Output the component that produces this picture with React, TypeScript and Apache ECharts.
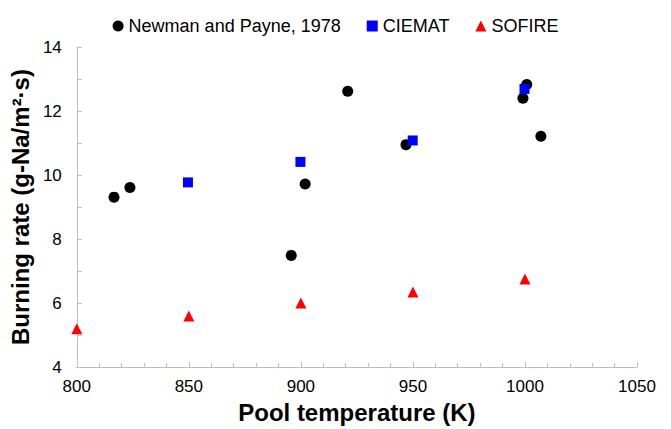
import React, { useEffect, useRef } from "react";
import * as echarts from "echarts";

// Pool temperature (K) / burning rate (g-Na/m²·s)
const newmanT = [816.6, 823.7, 895.7, 901.9, 920.9, 946.9, 999.1, 1000.8, 1007.1];
const newmanRate = [9.31, 9.61, 7.49, 9.72, 12.62, 10.95, 12.4, 12.83, 11.21];

const ciematT = [849.6, 899.8, 949.9, 999.8];
const ciematRate = [9.77, 10.41, 11.08, 12.69];

const sofireT = [800, 850, 900, 950, 1000];
const sofireRate = [5.2, 5.6, 6.0, 6.35, 6.75];

const pairs = (xs: number[], ys: number[]) => xs.map((x, i) => [x, ys[i]]);

const FONT = "Liberation Sans, Arial, sans-serif";

export default function App() {
  const ref = useRef<HTMLDivElement>(null);

  useEffect(() => {
    if (!ref.current) return;
    const chart = echarts.init(ref.current, undefined, { renderer: "svg" });
    const axisGrey = "#bfbfbf";
    chart.setOption({
      animation: false,
      backgroundColor: "#ffffff",
      textStyle: { fontFamily: FONT },
      legend: {
        top: 12,
        left: "center",
        itemGap: 26,
        itemWidth: 11,
        itemHeight: 11,
        textStyle: { fontSize: 18, color: "#000", fontFamily: FONT },
        data: [
          { name: "Newman and Payne, 1978", icon: "circle" },
          { name: "CIEMAT", icon: "rect" },
          { name: "SOFIRE", icon: "triangle" },
        ],
      },
      grid: { left: 76, right: 34, top: 47, bottom: 58, containLabel: false },
      xAxis: {
        type: "value",
        min: 800,
        max: 1050,
        interval: 50,
        name: "Pool temperature (K)",
        nameLocation: "middle",
        nameGap: 29,
        nameTextStyle: { fontSize: 24, fontWeight: "bold", color: "#000", fontFamily: FONT },
        axisLine: { show: true, lineStyle: { color: axisGrey, width: 1 } },
        axisTick: { show: true, inside: true, length: 5, lineStyle: { color: axisGrey } },
        minorTick: { show: true, splitNumber: 5, length: 4, lineStyle: { color: axisGrey } },
        axisLabel: {
          fontSize: 17,
          color: "#000",
          margin: 11,
          fontFamily: FONT,
          formatter: (v: number) => String(v),
        },
        splitLine: { show: false },
      },
      yAxis: {
        type: "value",
        min: 4,
        max: 14,
        interval: 2,
        name: "Burning rate (g-Na/m²·s)",
        nameLocation: "middle",
        nameGap: 42,
        nameTextStyle: { fontSize: 24, fontWeight: "bold", color: "#000", fontFamily: FONT },
        axisLine: { show: true, lineStyle: { color: axisGrey, width: 1 } },
        axisTick: { show: true, inside: true, length: 5, lineStyle: { color: axisGrey } },
        minorTick: { show: true, splitNumber: 2, length: 5, lineStyle: { color: axisGrey } },
        axisLabel: { fontSize: 17, color: "#000", margin: 15, fontFamily: FONT },
        splitLine: { show: false },
      },
      series: [
        {
          name: "Newman and Payne, 1978",
          type: "scatter",
          symbol: "circle",
          symbolSize: 11,
          itemStyle: { color: "#000000", opacity: 1 },
          data: pairs(newmanT, newmanRate),
        },
        {
          name: "CIEMAT",
          type: "scatter",
          symbol: "rect",
          symbolSize: 10,
          itemStyle: { color: "#0000ff", opacity: 1 },
          data: pairs(ciematT, ciematRate),
        },
        {
          name: "SOFIRE",
          type: "scatter",
          symbol: "triangle",
          symbolSize: 11,
          itemStyle: { color: "#ff0000", opacity: 1 },
          data: pairs(sofireT, sofireRate),
        },
      ],
    });
    return () => chart.dispose();
  }, []);

  return <div ref={ref} style={{ width: 671, height: 429, position: "absolute", left: 0, top: 0 }} />;
}
